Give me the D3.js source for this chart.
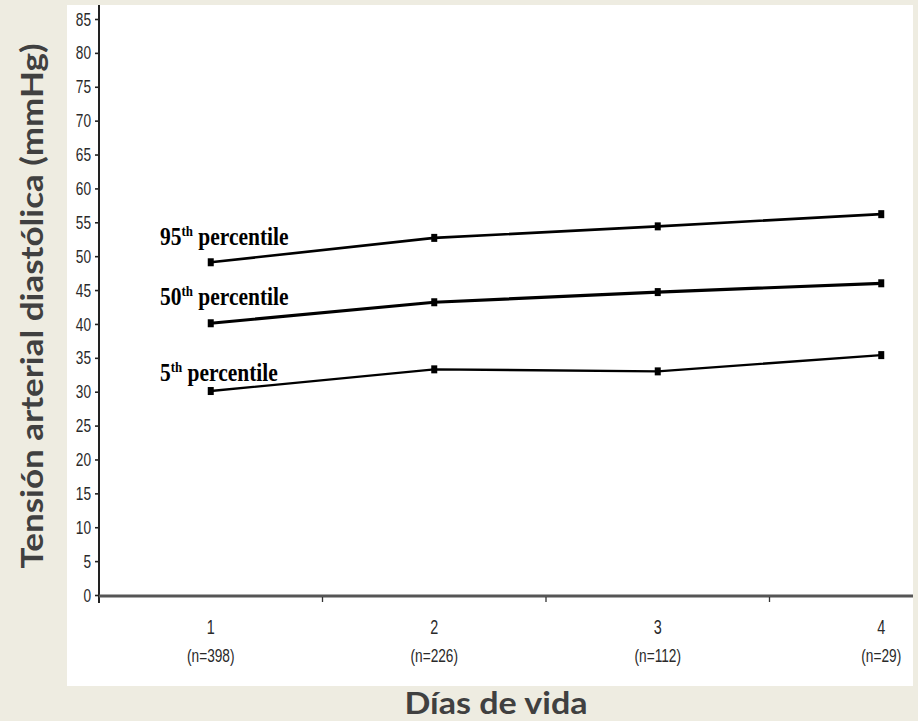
<!DOCTYPE html>
<html><head><meta charset="utf-8">
<script src="https://cdn.jsdelivr.net/npm/d3@7"></script>
<style>body{margin:0;padding:0;background:#EEECE1;} svg{display:block;}</style>
</head><body>
<svg id="chart" width="918" height="721"></svg>
<script>
// ---- data ----
const days = ["1", "2", "3", "4"];
const nLabels = ["(n=398)", "(n=226)", "(n=112)", "(n=29)"];
const yTicks = [0,5,10,15,20,25,30,35,40,45,50,55,60,65,70,75,80,85];
const p95 = [49.1, 52.7, 54.4, 56.2];
const p50 = [40.1, 43.2, 44.7, 46.0];
const p5  = [30.1, 33.3, 33.0, 35.4];
const seriesNames = [["95", "th percentile"], ["50", "th percentile"], ["5", "th percentile"]];
const yTitle = "Tensión arterial diastólica (mmHg)";
const xTitle = "Días de vida";

// ---- layout ----
const svg = d3.select("#chart");
svg.append("rect").attr("width", 918).attr("height", 721).attr("fill", "#EEECE1");
const panel = {x: 67, y: 5, w: 846, h: 681};
svg.append("rect").attr("x", panel.x).attr("y", panel.y).attr("width", panel.w).attr("height", panel.h).attr("fill", "#ffffff");
svg.append("clipPath").attr("id", "clip").append("rect")
  .attr("x", panel.x).attr("y", panel.y).attr("width", panel.w).attr("height", panel.h);
const g = svg.append("g").attr("clip-path", "url(#clip)");

const x = d3.scaleBand().domain(days).range([99, 993]).padding(0);
const y = d3.scaleLinear().domain([0, 85]).range([595, 19]);
const cx = d => x(d) + x.bandwidth() / 2;
const narrow = "'Liberation Sans', Arial, sans-serif";
const sx = 0.72;

// y axis
const yAxis = d3.axisLeft(y).tickValues(yTicks).tickSize(4).tickPadding(4);
const ya = g.append("g").attr("transform", "translate(99,0)").call(yAxis);
ya.select(".domain").remove();
ya.selectAll(".tick line").attr("stroke", "#222").attr("stroke-width", 1.6);
ya.selectAll(".tick text")
  .attr("x", 0)
  .attr("transform", `translate(-8,0) scale(${sx},1)`)
  .attr("font-family", narrow)
  .attr("font-size", 19).attr("fill", "#2a2a2a");
g.append("line").attr("x1", 99).attr("x2", 99).attr("y1", 5).attr("y2", 603)
  .attr("stroke", "#222").attr("stroke-width", 2);

// x axis
g.append("line").attr("x1", 99).attr("x2", 993).attr("y1", 596).attr("y2", 596)
  .attr("stroke", "#555").attr("stroke-width", 3);
g.selectAll(".xtick").data(days.slice(1)).enter().append("line")
  .attr("x1", d => x(d)).attr("x2", d => x(d)).attr("y1", 597).attr("y2", 602)
  .attr("stroke", "#333").attr("stroke-width", 1.3);
g.selectAll(".xlab").data(days).enter().append("text")
  .attr("transform", d => `translate(${cx(d)},634) scale(${sx},1)`)
  .attr("text-anchor", "middle")
  .attr("font-family", narrow)
  .attr("font-size", 20).attr("fill", "#2a2a2a").text(d => d);
g.selectAll(".nlab").data(nLabels).enter().append("text")
  .attr("transform", (d, i) => `translate(${cx(days[i])},662) scale(${sx},1)`)
  .attr("text-anchor", "middle")
  .attr("font-family", narrow)
  .attr("font-size", 19).attr("fill", "#2a2a2a").text(d => d);

// lines
const allSeries = [p95, p50, p5];
const widths = [2.6, 3.2, 2.4];
const line = d3.line().x((d, i) => cx(days[i])).y(d => y(d));
allSeries.forEach((s, k) => {
  g.append("path").datum(s).attr("d", line).attr("fill", "none")
    .attr("stroke", "#000").attr("stroke-width", widths[k]);
  g.selectAll(".m" + k).data(s).enter().append("rect")
    .attr("x", (d, i) => cx(days[i]) - 3).attr("y", d => y(d) - 4)
    .attr("width", 6).attr("height", 8).attr("fill", "#000");
});

// series labels
const labelOffsets = [17, 18, 10];
seriesNames.forEach((nm, k) => {
  const t = g.append("text")
    .attr("transform", `translate(160,${y(allSeries[k][0]) - labelOffsets[k]}) scale(0.86,1)`)
    .attr("font-family", "'Liberation Serif','Times New Roman',serif")
    .attr("font-weight", "bold").attr("font-size", 25).attr("fill", "#000");
  t.append("tspan").text(nm[0]);
  t.append("tspan").attr("font-size", 15).attr("dy", -9).text("th");
  t.append("tspan").attr("dy", 9).text(" percentile");
});

// axis titles
svg.append("text").attr("transform", "translate(43,306) rotate(-90)")
  .attr("text-anchor", "middle").attr("font-family", "Lato, 'Open Sans', sans-serif")
  .attr("font-weight", "bold").attr("font-size", 30).attr("fill", "#404040")
  .attr("textLength", 525).attr("lengthAdjust", "spacingAndGlyphs").text(yTitle);
svg.append("text").attr("x", 496).attr("y", 714)
  .attr("text-anchor", "middle").attr("font-family", "Lato, 'Open Sans', sans-serif")
  .attr("font-weight", "bold").attr("font-size", 30).attr("fill", "#404040")
  .attr("textLength", 183).attr("lengthAdjust", "spacingAndGlyphs").text(xTitle);
</script>
</body></html>
